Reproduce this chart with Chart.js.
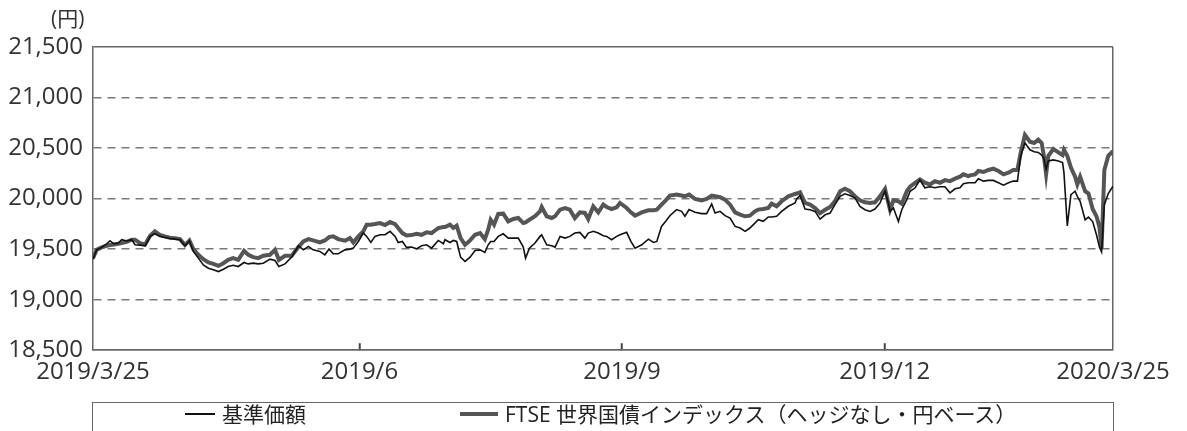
<!DOCTYPE html>
<html>
<head>
<meta charset="utf-8">
<script src="https://cdn.jsdelivr.net/npm/chart.js@4"></script>
<style>
  body { margin: 0; background: #fff; font-family: "Open Sans", "Noto Sans CJK JP", sans-serif; }
  #wrap { position: relative; width: 1187px; height: 431px; overflow: hidden; }
  #unit { position: absolute; left: 51px; top: 2px; font-size: 21px; color: #333; }
  #legend {
    position: absolute; left: 92px; top: 402px; width: 1022px; height: 50px;
    border: 1.5px solid #666; box-sizing: border-box;
    font-size: 21px; color: #222;
  }
  #legend .item { position: absolute; top: 0; display: flex; align-items: center; gap: 7px; line-height: 22px; white-space: nowrap; }
  #legend .swatch { display: inline-block; }
</style>
</head>
<body>
<div id="wrap">
  <canvas id="chart" width="1187" height="431"></canvas>
  <div id="unit">(円)</div>
  <div id="legend"></div>
</div>
<script>
// day offsets from 2019/3/25
const days = [
  0, 1.3, 3.1, 4.9, 6.1, 7.5, 9.1, 10.3, 12.1, 13.9, 15.1, 16.9, 18.7, 20.5, 22.2, 24.0,
  25.8, 27.6, 29.4, 31.2, 33.0, 34.6, 36.0, 37.8, 39.6, 41.4, 43.2, 45.0, 46.8, 48.5, 50.3,
  52.1, 54.2, 55.7, 57.5, 59.3, 61.1,
  63.5, 65.3, 66.7, 68.9, 71.3, 73.7, 75.5, 77.3, 79.0, 81.4, 83.2, 84.7, 86.2, 88.0, 90.4,
  92.2, 93.4, 95.2, 97.0, 98.2, 99.7, 101.2, 103.0, 104.8, 106.6, 108.4, 109.5, 111.0, 112.5,
  114.3, 116.1, 117.9, 119.7, 121.5, 123.9, 125.7,
  126.3, 128.1, 129.3, 130.5, 131.9, 133.5, 135.3, 137.1, 138.9, 140.6, 141.8, 142.7, 143.9,
  145.4, 147.2, 149.0, 150.8, 152.6, 154.4, 155.2, 156.6, 158.6, 160.4, 161.0, 162.8, 164.6,
  165.8, 167.6, 169.4, 171.1, 172.9, 174.7, 176.5, 177.7, 179.5, 181.3, 183.1, 184.3, 186.1,
  187.9, 189.1,
  191.5, 193.0, 194.5, 196.9, 199.3, 201.1, 202.3, 204.0, 205.5, 207.0, 209.4, 211.2, 212.4,
  213.9, 216.0, 218.4, 220.2, 222.0, 223.2, 225.0, 226.8, 228.6, 230.4, 232.2, 234.0, 235.7,
  237.5, 238.7, 240.5, 242.3, 243.5, 245.3, 247.1, 249.5, 251.9,
  252.5, 253.7, 255.5, 257.3, 259.1, 260.9, 262.7, 264.5, 266.2, 268.1, 269.8, 271.6, 273.4,
  275.2, 277.0, 278.8, 280.6, 282.4, 284.2, 285.4, 286.0, 287.2, 289.0, 290.2, 292.0, 293.2,
  295.0, 296.7, 298.5, 300.3, 302.1, 303.9, 305.7, 307.5, 309.3, 311.1, 312.3, 314.1,
  314.7, 316.5, 317.7, 319.5, 321.3, 323.1, 324.9, 326.7, 328.5, 330.2, 331.7, 332.9, 334.4,
  336.2, 337.7, 339.2, 340.4, 341.2, 342.0, 342.8, 344.6, 346.4, 347.9, 348.4, 349.6, 350.9,
  352.4, 353.2, 354.2, 356.0, 357.2, 358.7, 360.1, 361.1, 361.9, 362.9, 364.3, 366.0
];

// 基準価額 (円)
const navValues = [
  19401, 19493, 19517, 19553, 19583, 19553, 19560, 19593, 19580, 19593, 19543, 19540, 19533, 19626, 19652, 19626,
  19616, 19606, 19599, 19593, 19533, 19580, 19477, 19411, 19344, 19311, 19295, 19278, 19301, 19328, 19341,
  19328, 19368, 19354, 19361, 19354, 19361,
  19401, 19387, 19328, 19354, 19421, 19533, 19493, 19527, 19493, 19477, 19444, 19500, 19454, 19454, 19493,
  19500, 19510, 19576, 19659, 19626, 19566, 19626, 19642, 19642, 19676, 19626, 19566, 19576, 19517,
  19520, 19503, 19533, 19543, 19510, 19586, 19553,
  19593, 19566, 19586, 19576, 19421, 19378, 19421, 19487, 19493, 19467, 19543, 19576, 19576,
  19626, 19652, 19609, 19609, 19609, 19520, 19411, 19510, 19560, 19626, 19642, 19543, 19533,
  19520, 19626, 19609, 19626, 19659, 19666, 19609, 19659, 19676, 19659, 19632, 19626, 19593,
  19626, 19642,
  19666, 19576, 19510, 19543, 19599, 19566, 19576, 19725, 19775, 19831, 19891, 19874, 19825,
  19891, 19864, 19851, 19851, 19947, 19858, 19874, 19831, 19808, 19725, 19709, 19676, 19709,
  19758, 19791, 19775, 19818, 19818, 19825, 19874, 19924, 19957,
  19997, 20030, 19897, 19890, 19873, 19797, 19840, 19857, 19940, 20023, 20047, 20030, 20007,
  19923, 19890, 19873, 19897, 19957, 20073, 19957, 19873, 19907, 19774, 19890, 19990, 20073,
  20107, 20183, 20107, 20117, 20107, 20117, 20117, 20057, 20097, 20107, 20147, 20157,
  20157, 20157, 20197, 20173, 20180, 20180, 20157, 20133, 20157, 20173, 20173, 20423, 20550,
  20483, 20463, 20457, 20430, 20397, 20290, 20373, 20383, 20373, 20357, 20257, 19730, 20040,
  20073, 20023, 19973, 19790, 19817, 19773, 19640, 19523, 19473, 19940, 20050, 20123
];

// FTSE世界国債インデックス(ヘッジなし・円ベース)
const indexValues = [
  19411, 19493, 19517, 19533, 19540, 19546, 19553, 19560, 19573, 19593, 19593, 19560, 19546, 19632, 19676, 19642,
  19626, 19613, 19609, 19599, 19540, 19586, 19500, 19444, 19401, 19368, 19354, 19334, 19361, 19394, 19411,
  19394, 19483, 19444, 19421, 19411, 19434,
  19444, 19493, 19394, 19434, 19434, 19520, 19576, 19599, 19586, 19566, 19586, 19619, 19626, 19599, 19583,
  19609, 19566, 19626, 19676, 19742, 19742, 19748, 19758, 19738, 19768, 19748, 19709, 19659, 19636,
  19639, 19652, 19642, 19666, 19659, 19709, 19719,
  19719, 19742, 19709, 19732, 19609, 19543, 19586, 19642, 19659, 19599, 19692, 19791, 19742,
  19848, 19851, 19775, 19798, 19808, 19758, 19765, 19791, 19825, 19874, 19917, 19825, 19808,
  19825, 19891, 19907, 19891, 19808, 19864, 19858, 19798, 19924, 19864, 19940, 19917, 19897,
  19914, 19957,
  19907, 19864, 19831, 19864, 19884, 19884, 19891, 19940, 19983, 20030, 20040, 20030, 20023,
  20040, 19997, 19983, 19997, 20030, 20023, 20013, 19990, 19940, 19864, 19841, 19825, 19831,
  19874, 19891, 19897, 19907, 19950, 19924, 19974, 20023, 20046,
  20050, 20063, 19957, 19940, 19907, 19857, 19890, 19917, 19973, 20073, 20097, 20073, 20023,
  19983, 19963, 19957, 19963, 20023, 20097, 19957, 19890, 19983, 19973, 19950, 20073, 20117,
  20157, 20190, 20157, 20140, 20173, 20157, 20183, 20173, 20197, 20217, 20240, 20223,
  20230, 20240, 20273, 20263, 20283, 20297, 20273, 20240, 20257, 20283, 20283, 20457, 20630,
  20563, 20550, 20583, 20550, 20423, 20240, 20423, 20490, 20457, 20430, 20483, 20423, 20307,
  20217, 20140, 20217, 20073, 20050, 19897, 19823, 19723, 19507, 20283, 20423, 20470
];

const tickDays = [0, 95.6, 189.8, 284.1, 366];
const tickLabels = ['2019/3/25', '2019/6', '2019/9', '2019/12', '2020/3/25'];
const yTicks = [18500, 19000, 19500, 20000, 20500, 21000, 21500];

const seriesNames = ['基準価額', 'FTSE 世界国債インデックス（ヘッジなし・円ベース）'];
const seriesColors = ['#111', '#555'];
const seriesWidths = [1.6, 4];

// legend as html below the plot
const legendEl = document.getElementById('legend');
const legendLeft = [92, 367];
seriesNames.forEach((name, i) => {
  const item = document.createElement('div');
  item.className = 'item';
  item.style.left = legendLeft[i] + 'px';
  const sw = document.createElement('span');
  sw.className = 'swatch';
  sw.style.width = (i === 0 ? 30 : 38) + 'px';
  sw.style.height = (i === 0 ? 2 : 4) + 'px';
  sw.style.background = seriesColors[i];
  const label = document.createElement('span');
  label.textContent = name;
  item.appendChild(sw);
  item.appendChild(label);
  legendEl.appendChild(item);
});

Chart.defaults.font.family = '"Open Sans", "Noto Sans CJK JP", sans-serif';
Chart.defaults.color = '#333';

const toPoints = vals => vals.map((v, i) => ({x: days[i], y: v}));

new Chart(document.getElementById('chart'), {
  type: 'line',
  data: {
    datasets: [
      {
        label: seriesNames[0],
        data: toPoints(navValues),
        borderColor: seriesColors[0],
        borderWidth: seriesWidths[0],
        pointRadius: 0,
        tension: 0,
        order: 0
      },
      {
        label: seriesNames[1],
        data: toPoints(indexValues),
        borderColor: seriesColors[1],
        borderWidth: seriesWidths[1],
        pointRadius: 0,
        tension: 0,
        order: 1
      }
    ]
  },
  options: {
    responsive: false,
    animation: false,
    layout: { padding: { top: 47, right: 74, bottom: 29, left: 0 } },
    plugins: { legend: { display: false }, tooltip: { enabled: false } },
    scales: {
      x: {
        type: 'linear',
        min: 0,
        max: 366,
        afterBuildTicks: s => { s.ticks = tickDays.map(v => ({value: v})); },
        ticks: {
          callback: (v, i) => tickLabels[i],
          font: { size: 24 },
          maxRotation: 0,
          padding: 15
        },
        grid: {
          drawOnChartArea: true,
          color: c => (c.tick && c.tick.value === 366) ? '#666' : 'rgba(0,0,0,0)',
          lineWidth: 1.5,
          tickLength: -7,
          tickColor: c => (c.tick && c.tick.value > 0 && c.tick.value < 366) ? '#444' : 'rgba(0,0,0,0)',
          tickWidth: 2
        },
        border: { color: '#666', width: 1.5 }
      },
      y: {
        min: 18500,
        max: 21500,
        afterBuildTicks: s => { s.ticks = yTicks.map(v => ({value: v})); },
        afterFit: s => { s.width = 93; },
        ticks: {
          callback: v => v.toLocaleString('en-US'),
          font: { size: 24 },
          padding: 10
        },
        grid: {
          drawTicks: false,
          lineWidth: 1.5,
          color: c => (c.tick && c.tick.value === 21500) ? '#666' : '#7a7a7a'
        },
        border: {
          color: '#666',
          width: 1.5,
          dash: c => (c.tick && c.tick.value !== 21500 && c.tick.value !== 18500) ? [8, 6] : []
        }
      }
    }
  }
});
</script>
</body>
</html>
